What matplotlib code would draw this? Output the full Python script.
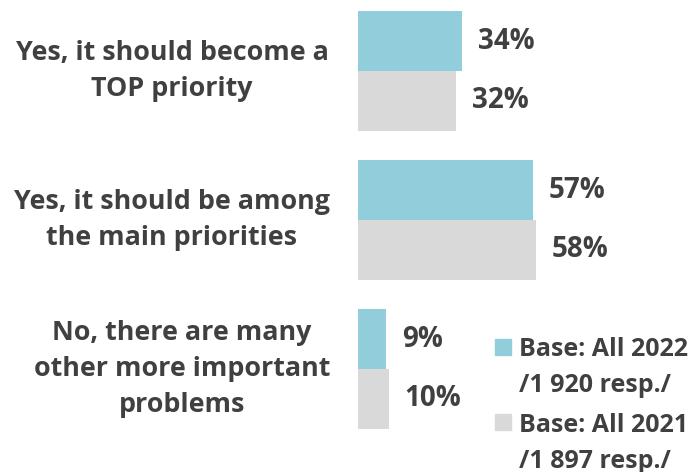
import matplotlib
matplotlib.use("Agg")
import matplotlib.pyplot as plt
from matplotlib.patches import Rectangle
from matplotlib.transforms import blended_transform_factory
import numpy as np

categories = [
    "Yes, it should become a\nTOP priority",
    "Yes, it should be among\nthe main priorities",
    "No, there are many\nother more important\nproblems",
]
values_2022 = [34, 57, 9]
values_2021 = [32, 58, 10]
legend_labels = ["Base: All 2022\n/1 920 resp./", "Base: All 2021\n/1 897 resp./"]

BLUE = "#92CDDC"
GREY = "#D9D9D9"
TEXT = "#404040"
FONT = "Open Sans"

W, H, DPI = 692, 472, 100
fig = plt.figure(figsize=(W / DPI, H / DPI), dpi=DPI)

# axes placed in pixel terms: bars start at x=358, 100% spans 307 px
ax_left, ax_width = 358, 307
ax = fig.add_axes([ax_left / W, 0, ax_width / W, 1])
ax.set_xlim(0, 100)
gap = 149.0
first_center = 71.0
ax.set_ylim((H - first_center) / gap, -first_center / gap)
ax.axis("off")

y = np.arange(len(categories))
bh = 0.4
ax.barh(y - bh / 2, values_2022, height=bh, color=BLUE, label=legend_labels[0])
ax.barh(y + bh / 2, values_2021, height=bh, color=GREY, label=legend_labels[1])

offset = 16 / ax_width * 100
for yi, v in zip(y - bh / 2, values_2022):
    ax.text(v + offset, yi, f"{v}%", va="center", ha="left", fontsize=20,
            fontweight="bold", color=TEXT, family=FONT)
for yi, v in zip(y + bh / 2, values_2021):
    ax.text(v + offset, yi, f"{v}%", va="center", ha="left", fontsize=20,
            fontweight="bold", color=TEXT, family=FONT)

# category labels, centred in the left margin
trans = blended_transform_factory(fig.transFigure, ax.transData)
label_x = [172, 172, 182]
for yi, lab, lx in zip(y, categories, label_x):
    ax.text(lx / W, yi, lab, transform=trans, ha="center", va="center",
            multialignment="center", fontsize=19.4, fontweight="bold",
            color=TEXT, family=FONT, linespacing=1.52)

# legend drawn by hand: square beside the first line of each entry
leg_items = [(BLUE, legend_labels[0], 347), (GREY, legend_labels[1], 422)]
line_pitch = 36
for col, lab, yc in leg_items:
    fig.patches.append(Rectangle((495 / W, (H - yc - 8) / H), 16 / W, 16 / H,
                                 transform=fig.transFigure, color=col))
    for k, line in enumerate(lab.split("\n")):
        fig.text(519 / W, (H - yc - k * line_pitch) / H, line, ha="left",
                 va="center_baseline", fontsize=18, fontweight="bold",
                 color=TEXT, family=FONT)

fig.savefig("out.png", dpi=DPI)
